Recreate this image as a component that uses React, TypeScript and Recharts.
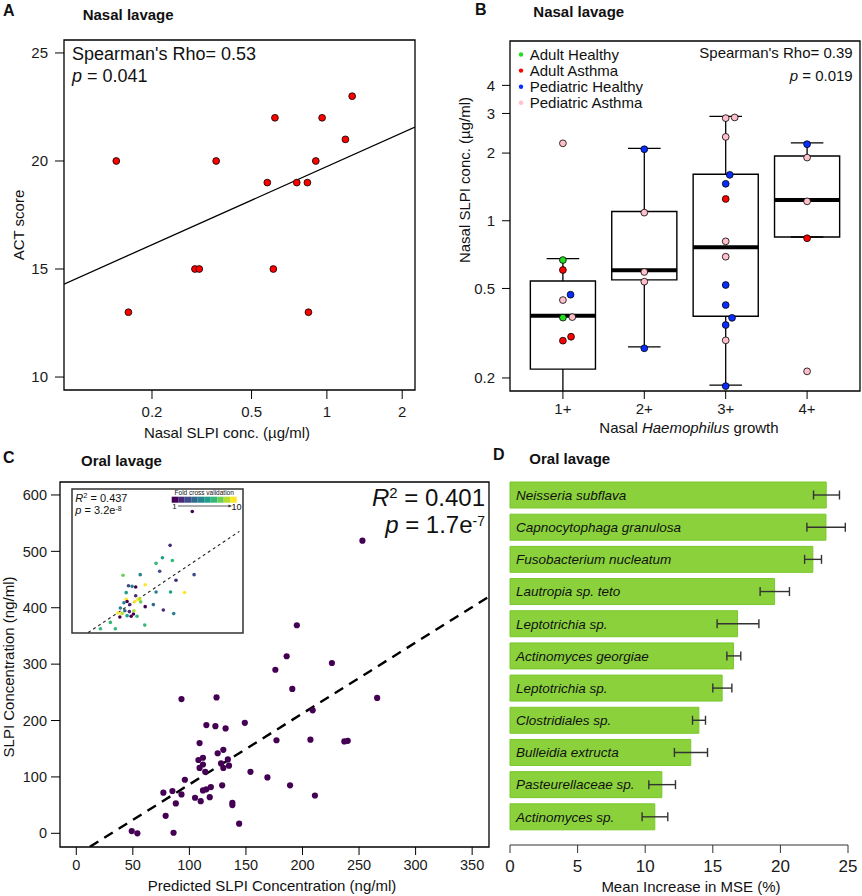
import React from "react";
import {
  ComposedChart,
  BarChart,
  Bar,
  Scatter,
  Line,
  XAxis,
  YAxis,
  ReferenceArea,
  ReferenceLine,
  ErrorBar,
  LabelList,
  Cell,
} from "recharts";

const FONT = "'Liberation Sans', Arial, Helvetica, sans-serif";
const INK = "#111";

// A: nasal SLPI vs ACT score
const actPoints = [
  { x: 0.144, y: 20 },
  { x: 0.161, y: 13 },
  { x: 0.297, y: 15 },
  { x: 0.309, y: 15 },
  { x: 0.361, y: 20 },
  { x: 0.578, y: 19 },
  { x: 0.62, y: 22 },
  { x: 0.611, y: 15 },
  { x: 0.758, y: 19 },
  { x: 0.836, y: 19 },
  { x: 0.903, y: 20 },
  { x: 0.844, y: 13 },
  { x: 0.957, y: 22 },
  { x: 1.186, y: 21 },
  { x: 1.262, y: 23 },
];
const actFit = [
  { x: 0.089, y: 14.3 },
  { x: 2.25, y: 21.57 },
];
const actXTicks = [0.2, 0.5, 1, 2];
const actYTicks = [10, 15, 20, 25];
const actXDomain = [0.089, 2.25];
const actYDomain = [9.4, 25.6];

// B: nasal SLPI by Haemophilus growth
const growthTicks = [1, 2, 3, 4];
const concTicks = [0.2, 0.5, 1, 2, 3, 4];
const growthDomain = [0.35, 4.65];
const concDomain = [0.175, 6.3];
const growthBoxes = [
  { g: 1, lo: 0.16, q1: 0.219, med: 0.378, q3: 0.54, hi: 0.678 },
  { g: 2, lo: 0.275, q1: 0.546, med: 0.602, q3: 1.1, hi: 2.1 },
  { g: 3, lo: 0.186, q1: 0.376, med: 0.762, q3: 1.61, hi: 2.91 },
  { g: 4, lo: 0.847, q1: 0.847, med: 1.236, q3: 1.94, hi: 2.22 },
];
const adultHealthy = [
  { x: 1, y: 0.669 },
  { x: 1, y: 0.371 },
];
const adultAsthma = [
  { x: 1, y: 0.604 },
  { x: 1.1, y: 0.305 },
  { x: 1, y: 0.293 },
  { x: 3, y: 1.25 },
  { x: 4, y: 0.836 },
];
const pediatricHealthy = [
  { x: 1.094, y: 0.469 },
  { x: 2, y: 2.08 },
  { x: 2, y: 0.271 },
  { x: 3.05, y: 1.6 },
  { x: 3, y: 1.46 },
  { x: 3, y: 0.518 },
  { x: 3, y: 0.422 },
  { x: 3.078, y: 0.37 },
  { x: 3, y: 0.344 },
  { x: 3, y: 0.184 },
  { x: 4, y: 2.19 },
];
const pediatricAsthma = [
  { x: 1, y: 2.21 },
  { x: 1, y: 0.444 },
  { x: 1.115, y: 0.373 },
  { x: 2, y: 1.087 },
  { x: 2, y: 0.592 },
  { x: 2, y: 0.536 },
  { x: 3, y: 2.86 },
  { x: 3.11, y: 2.88 },
  { x: 3, y: 2.36 },
  { x: 3, y: 0.81 },
  { x: 3, y: 0.692 },
  { x: 3, y: 0.294 },
  { x: 4, y: 1.91 },
  { x: 4, y: 1.22 },
  { x: 4, y: 0.214 },
];
const nasalGroups = [
  { name: "Adult Healthy", color: "#22dd22", points: adultHealthy },
  { name: "Adult Asthma", color: "#ff0000", points: adultAsthma },
  { name: "Pediatric Healthy", color: "#0a2cff", points: pediatricHealthy },
  { name: "Pediatric Asthma", color: "#ffc0cb", points: pediatricAsthma },
];

// C: oral SLPI, observed vs predicted
const slpiPoints = [
  { x: 253, y: 519 }, { x: 195, y: 369 }, { x: 186, y: 314 }, { x: 176, y: 290 },
  { x: 226, y: 302 }, { x: 191, y: 256 }, { x: 93, y: 238 }, { x: 124, y: 241 },
  { x: 266, y: 240 }, { x: 209, y: 218 }, { x: 149, y: 196 }, { x: 115, y: 192 },
  { x: 123, y: 190 }, { x: 132, y: 186 }, { x: 177, y: 165 }, { x: 207, y: 166 },
  { x: 237, y: 163 }, { x: 240, y: 164 }, { x: 109, y: 160 }, { x: 125, y: 142 },
  { x: 130, y: 148 }, { x: 108, y: 130 }, { x: 112, y: 134 }, { x: 134, y: 131 },
  { x: 112, y: 122 }, { x: 128, y: 124 }, { x: 109, y: 116 }, { x: 130, y: 116 },
  { x: 135, y: 120 }, { x: 114, y: 109 }, { x: 154, y: 109 }, { x: 96, y: 95 },
  { x: 169, y: 99 }, { x: 77, y: 72 }, { x: 85, y: 75 }, { x: 112, y: 76 },
  { x: 115, y: 78 }, { x: 119, y: 82 }, { x: 129, y: 85 }, { x: 189, y: 85 },
  { x: 93, y: 69 }, { x: 211, y: 67 }, { x: 105, y: 63 }, { x: 110, y: 57 },
  { x: 118, y: 64 }, { x: 88, y: 53 }, { x: 138, y: 54 }, { x: 138, y: 50 },
  { x: 79, y: 31 }, { x: 144, y: 17 }, { x: 49, y: 4 }, { x: 54, y: 0 },
  { x: 86, y: 1 },
];
const slpiFit = [
  { x: 12, y: -24 },
  { x: 365, y: 420 },
];
const slpiXTicks = [0, 50, 100, 150, 200, 250, 300, 350];
const slpiYTicks = [0, 100, 200, 300, 400, 500, 600];
const slpiXDomain = [-14.4, 364.9];
const slpiYDomain = [-24.3, 623];

// C inset: 10-fold cross validation
const foldColors = [
  "#440154", "#482878", "#3e4a89", "#31688e", "#26828e",
  "#1f9e89", "#35b779", "#6dcd59", "#b4de2c", "#fde725",
];
const cvPoints = [
  { x: 254, y: 520, fold: 1 }, { x: 205, y: 370, fold: 2 }, { x: 188, y: 315, fold: 6 },
  { x: 174, y: 290, fold: 7 }, { x: 210, y: 303, fold: 7 }, { x: 101, y: 237, fold: 8 },
  { x: 139, y: 240, fold: 5 }, { x: 182, y: 255, fold: 3 }, { x: 258, y: 240, fold: 3 },
  { x: 218, y: 215, fold: 2 }, { x: 113, y: 191, fold: 3 }, { x: 129, y: 185, fold: 1 },
  { x: 121, y: 188, fold: 5 }, { x: 150, y: 195, fold: 10 }, { x: 174, y: 163, fold: 5 },
  { x: 206, y: 163, fold: 6 }, { x: 237, y: 161, fold: 10 }, { x: 108, y: 160, fold: 6 },
  { x: 129, y: 146, fold: 2 }, { x: 108, y: 130, fold: 10 }, { x: 134, y: 130, fold: 10 },
  { x: 110, y: 121, fold: 1 }, { x: 103, y: 115, fold: 5 }, { x: 116, y: 107, fold: 2 },
  { x: 127, y: 120, fold: 10 }, { x: 140, y: 119, fold: 8 }, { x: 138, y: 133, fold: 9 },
  { x: 150, y: 98, fold: 1 }, { x: 168, y: 107, fold: 4 }, { x: 190, y: 83, fold: 2 },
  { x: 213, y: 67, fold: 5 }, { x: 95, y: 92, fold: 5 }, { x: 99, y: 68, fold: 9 },
  { x: 90, y: 70, fold: 10 }, { x: 94, y: 52, fold: 1 }, { x: 105, y: 80, fold: 4 },
  { x: 110, y: 58, fold: 6 }, { x: 115, y: 76, fold: 2 }, { x: 119, y: 55, fold: 1 },
  { x: 124, y: 65, fold: 1 }, { x: 125, y: 80, fold: 9 }, { x: 132, y: 55, fold: 7 },
  { x: 73, y: 28, fold: 7 }, { x: 51, y: 0, fold: 7 }, { x: 84, y: 0, fold: 7 },
  { x: 149, y: 16, fold: 7 },
];
const cvFit = [
  { x: 24, y: -17 },
  { x: 358, y: 432 },
];
const cvXDomain = [-11.7, 366];
const cvYDomain = [-19, 620];

// D: random forest importance
const taxa = [
  "Neisseria subflava",
  "Capnocytophaga granulosa",
  "Fusobacterium nucleatum",
  "Lautropia sp. teto",
  "Leptotrichia sp.",
  "Actinomyces georgiae",
  "Leptotrichia sp.",
  "Clostridiales sp.",
  "Bulleidia extructa",
  "Pasteurellaceae sp.",
  "Actinomyces sp.",
];
const mseMean = [23.39, 23.37, 22.4, 19.57, 16.83, 16.53, 15.69, 13.97, 13.37, 11.23, 10.71];
const mseLow = [22.45, 21.96, 21.79, 18.5, 15.32, 16.04, 15.0, 13.5, 12.16, 10.27, 9.77];
const mseHigh = [24.37, 24.8, 23.04, 20.67, 18.41, 17.07, 16.41, 14.46, 14.61, 12.24, 11.67];
const mseTicks = [0, 5, 10, 15, 20, 25];
const mseData = taxa.map((name, i) => ({
  id: i,
  name,
  mse: mseMean[i],
  err: [mseMean[i] - mseLow[i], mseHigh[i] - mseMean[i]],
}));

const tickFont = (s: number) => ({ fontSize: s, fill: "#1a1a1a", fontFamily: FONT });

const dot = (r: number, stroke?: string) => (p: any) => (
  <circle cx={p.cx} cy={p.cy} r={r} fill={p.fill} stroke={stroke ?? "none"} strokeWidth={0.8} />
);

// plot frame, like R's box()
const frame = (xd: number[], yd: number[], stroke = "#000", width = 1.3) => (
  <ReferenceArea
    x1={xd[0]}
    x2={xd[1]}
    y1={yd[0]}
    y2={yd[1]}
    fill="none"
    fillOpacity={0}
    stroke={stroke}
    strokeWidth={width}
    ifOverflow="visible"
  />
);

const PanelA = () => (
  <ComposedChart width={430} height={440} margin={{ top: 40, right: 15, bottom: 0, left: 0 }}>
    <XAxis
      type="number"
      dataKey="x"
      scale="log"
      domain={actXDomain}
      allowDataOverflow
      ticks={actXTicks}
      interval={0}
      tickFormatter={(v) => String(v)}
      axisLine={false}
      tickLine={{ stroke: "#000" }}
      tickSize={9}
      tickMargin={7}
      tick={tickFont(15)}
      height={50}
    />
    <YAxis
      type="number"
      dataKey="y"
      domain={actYDomain}
      allowDataOverflow
      ticks={actYTicks}
      interval={0}
      axisLine={false}
      tickLine={{ stroke: "#000" }}
      tickSize={9}
      tickMargin={7}
      tick={tickFont(15)}
      width={64}
    />
    {frame(actXDomain, actYDomain)}
    <Line data={actFit} dataKey="y" stroke="#000" strokeWidth={1.3} dot={false} activeDot={false} isAnimationActive={false} />
    <Scatter data={actPoints} fill="#ff0000" shape={dot(3.4, "#000")} isAnimationActive={false} />
  </ComposedChart>
);

const PanelB = () => (
  <ComposedChart width={432} height={440} margin={{ top: 41, right: 2, bottom: 0, left: 0 }}>
    <XAxis
      type="number"
      dataKey="x"
      domain={growthDomain}
      allowDataOverflow
      ticks={growthTicks}
      interval={0}
      tickFormatter={(v) => `${v}+`}
      axisLine={false}
      tickLine={{ stroke: "#000" }}
      tickSize={8}
      tickMargin={4}
      tick={tickFont(15)}
      height={49}
    />
    <YAxis
      type="number"
      dataKey="y"
      scale="log"
      domain={concDomain}
      allowDataOverflow
      ticks={concTicks}
      interval={0}
      tickFormatter={(v) => String(v)}
      axisLine={false}
      tickLine={{ stroke: "#000" }}
      tickSize={8}
      tickMargin={7}
      tick={tickFont(15)}
      width={80}
    />
    {frame(growthDomain, concDomain)}
    {growthBoxes.map((b) => (
      <React.Fragment key={b.g}>
        <ReferenceLine segment={[{ x: b.g, y: b.lo }, { x: b.g, y: b.q1 }]} stroke="#000" strokeWidth={1.3} ifOverflow="hidden" />
        <ReferenceLine segment={[{ x: b.g, y: b.q3 }, { x: b.g, y: b.hi }]} stroke="#000" strokeWidth={1.3} ifOverflow="hidden" />
        <ReferenceLine segment={[{ x: b.g - 0.2, y: b.lo }, { x: b.g + 0.2, y: b.lo }]} stroke="#000" strokeWidth={1.3} ifOverflow="hidden" />
        <ReferenceLine segment={[{ x: b.g - 0.2, y: b.hi }, { x: b.g + 0.2, y: b.hi }]} stroke="#000" strokeWidth={1.3} ifOverflow="hidden" />
        <ReferenceArea x1={b.g - 0.4} x2={b.g + 0.4} y1={b.q1} y2={b.q3} fill="#fff" fillOpacity={1} stroke="#000" strokeWidth={1.4} />
        <ReferenceLine segment={[{ x: b.g - 0.4, y: b.med }, { x: b.g + 0.4, y: b.med }]} stroke="#000" strokeWidth={4} />
      </React.Fragment>
    ))}
    {nasalGroups.map((g) => (
      <Scatter key={g.name} data={g.points} fill={g.color} shape={dot(3.4, "#000")} isAnimationActive={false} />
    ))}
  </ComposedChart>
);

const PanelC = () => (
  <ComposedChart width={500} height={456} margin={{ top: 42, right: 11, bottom: 0, left: 0 }}>
    <XAxis
      type="number"
      dataKey="x"
      domain={slpiXDomain}
      allowDataOverflow
      ticks={slpiXTicks}
      interval={0}
      axisLine={false}
      tickLine={{ stroke: "#000" }}
      tickSize={8}
      tickMargin={5}
      tick={tickFont(14.5)}
      height={49}
    />
    <YAxis
      type="number"
      dataKey="y"
      domain={slpiYDomain}
      allowDataOverflow
      ticks={slpiYTicks}
      interval={0}
      axisLine={false}
      tickLine={{ stroke: "#000" }}
      tickSize={9}
      tickMargin={4}
      tick={tickFont(14.5)}
      width={60}
    />
    {frame(slpiXDomain, slpiYDomain)}
    <Line data={slpiFit} dataKey="y" stroke="#000" strokeWidth={2.4} strokeDasharray="10 7" dot={false} activeDot={false} isAnimationActive={false} />
    <Scatter data={slpiPoints} fill="#440154" shape={dot(3.1)} isAnimationActive={false} />
  </ComposedChart>
);

const Inset = () => (
  <ComposedChart width={183} height={159} margin={{ top: 4, right: 2, bottom: 0, left: 0 }}>
    <XAxis
      type="number"
      dataKey="x"
      domain={cvXDomain}
      allowDataOverflow
      ticks={slpiXTicks}
      interval={0}
      tick={false}
      axisLine={false}
      tickLine={{ stroke: "#555" }}
      tickSize={4}
      height={11}
    />
    <YAxis
      type="number"
      dataKey="y"
      domain={cvYDomain}
      allowDataOverflow
      ticks={slpiYTicks}
      interval={0}
      tick={false}
      axisLine={false}
      tickLine={{ stroke: "#555" }}
      tickSize={4}
      width={10}
    />
    {frame(cvXDomain, cvYDomain, "#333", 1.5)}
    <Line data={cvFit} dataKey="y" stroke="#222" strokeWidth={1.1} strokeDasharray="3 3" dot={false} activeDot={false} isAnimationActive={false} />
    <Scatter data={cvPoints} shape={dot(1.8)} isAnimationActive={false}>
      {cvPoints.map((p, i) => (
        <Cell key={i} fill={foldColors[p.fold - 1]} />
      ))}
    </Scatter>
  </ComposedChart>
);

const PanelD = () => (
  <BarChart width={432} height={456} data={mseData} layout="vertical" margin={{ top: 39, right: 14, bottom: 0, left: 80 }}>
    <XAxis
      type="number"
      domain={[0, 25]}
      ticks={mseTicks}
      interval={0}
      stroke="#333"
      tickSize={8}
      tickMargin={7}
      tick={tickFont(17)}
      height={51}
    />
    <YAxis type="category" dataKey="id" hide padding={{ top: 0, bottom: 12 }} />
    <Bar dataKey="mse" fill="#8ad13c" stroke="#79c82b" strokeWidth={1} barSize={26} isAnimationActive={false}>
      <ErrorBar dataKey="err" direction="x" width={4.5} stroke="#333" strokeWidth={1.4} />
      <LabelList
        dataKey="name"
        position="insideLeft"
        offset={6}
        fill="#111"
        fontSize={13.5}
        fontStyle="italic"
        fontFamily={FONT}
      />
    </Bar>
  </BarChart>
);

type TProps = {
  x: number;
  y: number;
  size?: number;
  anchor?: "start" | "middle" | "end";
  bold?: boolean;
  rotate?: boolean;
  children: React.ReactNode;
};
const T = ({ x, y, size = 15, anchor = "start", bold, rotate, children }: TProps) => (
  <text
    x={x}
    y={y + size * 0.36}
    fontSize={size}
    textAnchor={anchor}
    fontWeight={bold ? "bold" : "normal"}
    fill={INK}
    fontFamily={FONT}
    transform={rotate ? `rotate(-90 ${x} ${y})` : undefined}
  >
    {children}
  </text>
);

const Overlay = () => (
  <svg width={862} height={896} style={{ position: "absolute", left: 0, top: 0, pointerEvents: "none" }}>
    {/* A */}
    <T x={3} y={10} size={16} bold>A</T>
    <T x={82.7} y={14.5} bold>Nasal lavage</T>
    <T x={72} y={53.3} size={18}>Spearman's Rho= 0.53</T>
    <T x={72} y={75.7} size={18}>
      <tspan fontStyle="italic">p</tspan> = 0.041
    </T>
    <T x={19} y={225} rotate anchor="middle">ACT score</T>
    <T x={227} y={433} anchor="middle">Nasal SLPI conc. (µg/ml)</T>

    {/* B */}
    <T x={475} y={8.8} size={16} bold>B</T>
    <T x={533.3} y={11.7} bold>Nasal lavage</T>
    {nasalGroups.map((g, i) => (
      <g key={g.name}>
        <circle cx={521} cy={54.5 + i * 16.1} r={2.2} fill={g.color} />
        <T x={529.7} y={54.7 + i * 16.1}>{g.name}</T>
      </g>
    ))}
    <T x={852.7} y={53} anchor="end">Spearman's Rho= 0.39</T>
    <T x={852.7} y={76} anchor="end">
      <tspan fontStyle="italic">p</tspan> = 0.019
    </T>
    <T x={465} y={180} rotate anchor="middle">Nasal SLPI conc. (µg/ml)</T>
    <T x={689} y={428} anchor="middle">
      Nasal <tspan fontStyle="italic">Haemophilus</tspan> growth
    </T>

    {/* C */}
    <T x={3} y={457.5} size={16} bold>C</T>
    <T x={81} y={461} bold>Oral lavage</T>
    <T x={485} y={497.3} size={24} anchor="end">
      <tspan fontStyle="italic">R</tspan>
      <tspan dy={-8} fontSize={15}>2</tspan>
      <tspan dy={8}> = 0.401</tspan>
    </T>
    <T x={485} y={524} size={24} anchor="end">
      <tspan fontStyle="italic">p</tspan> = 1.7e<tspan dy={-7} fontSize={14}>-7</tspan>
    </T>
    <T x={75.3} y={498} size={11}>
      <tspan fontStyle="italic">R</tspan>
      <tspan dy={-4} fontSize={7.5}>2</tspan>
      <tspan dy={4}> = 0.437</tspan>
    </T>
    <T x={75.3} y={510.5} size={11}>
      <tspan fontStyle="italic">p</tspan> = 3.2e<tspan dy={-3.5} fontSize={7}>-8</tspan>
    </T>
    <T x={204.2} y={492.6} size={6.5} anchor="middle">Fold cross validation</T>
    {foldColors.map((c, i) => (
      <rect key={c} x={171.7 + i * 6.5} y={496.7} width={6.5} height={6} fill={c} />
    ))}
    <line x1={178} y1={506} x2={229} y2={506} stroke="#333" strokeWidth={0.8} />
    <path d="M232 506 l-3.5 -1.6 v3.2 z" fill="#333" />
    <T x={174.5} y={506.5} size={8} anchor="middle">1</T>
    <T x={236.5} y={506.5} size={9} anchor="middle">10</T>
    <T x={8.5} y={667} rotate anchor="middle">SLPI Concentration (ng/ml)</T>
    <T x={272} y={886} anchor="middle">Predicted SLPI Concentration (ng/ml)</T>

    {/* D */}
    <T x={493} y={454.7} size={16} bold>D</T>
    <T x={529.3} y={458.8} bold>Oral lavage</T>
    <T x={691} y={886.7} anchor="middle">Mean Increase in MSE (%)</T>
  </svg>
);

export default function App() {
  return (
    <div style={{ position: "absolute", left: 0, top: 0, width: 862, height: 896, background: "#fff", overflow: "hidden" }}>
      <div style={{ position: "absolute", left: 0, top: 0 }}>
        <PanelA />
      </div>
      <div style={{ position: "absolute", left: 430, top: 0 }}>
        <PanelB />
      </div>
      <div style={{ position: "absolute", left: 0, top: 440 }}>
        <PanelC />
      </div>
      <div style={{ position: "absolute", left: 62, top: 485, background: "#fff" }}>
        <Inset />
      </div>
      <div style={{ position: "absolute", left: 430, top: 440 }}>
        <PanelD />
      </div>
      <Overlay />
    </div>
  );
}
